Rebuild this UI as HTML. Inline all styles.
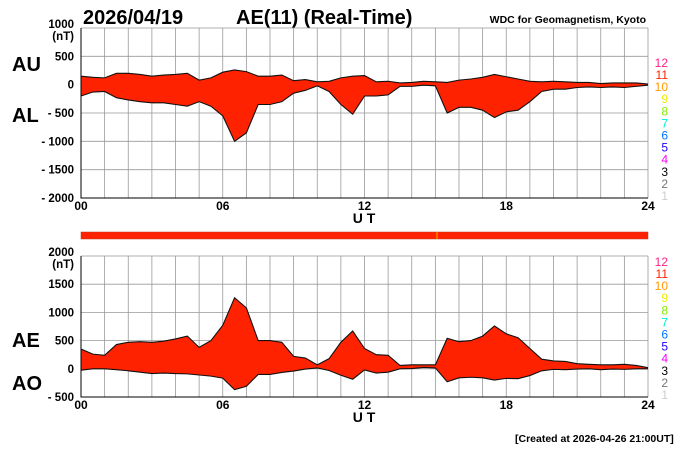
<!DOCTYPE html>
<html><head><meta charset="utf-8"><style>
body{margin:0;background:#fff;font-family:"Liberation Sans",Arial,sans-serif}
svg text{font-family:"Liberation Sans",Arial,sans-serif}
</style></head><body>
<svg id="c" width="700" height="450" viewBox="0 0 700 450">
<text x="83" y="24" font-size="20" font-weight="bold">2026/04/19</text>
<text x="236" y="24" font-size="20" font-weight="bold">AE(11) (Real-Time)</text>
<text x="646" y="23" font-size="10.5" font-weight="bold" text-anchor="end">WDC for Geomagnetism, Kyoto</text>
<text x="12" y="71" font-size="20" font-weight="bold">AU</text>
<text x="12" y="122" font-size="20" font-weight="bold">AL</text>
<text x="12" y="347" font-size="20" font-weight="bold">AE</text>
<text x="12" y="390" font-size="20" font-weight="bold">AO</text>
<rect x="81" y="232" width="567" height="7" fill="#ff2200" stroke="#c03020" stroke-width="0.5"/>
<line x1="437" y1="232" x2="437" y2="239" stroke="#ffaa00" stroke-width="1"/>
<text x="515" y="442" font-size="10.5" font-weight="bold">[Created at 2026-04-26 21:00UT]</text>
<g id="g1"></g><g id="g2"></g>
</svg>
<script>
const hours=[0,0.5,1,1.5,2,2.5,3,3.5,4,4.5,5,5.5,6,6.5,7,7.5,8,8.5,9,9.5,10,10.5,11,11.5,12,12.5,13,13.5,14,14.5,15,15.5,16,16.5,17,17.5,18,18.5,19,19.5,20,20.5,21,21.5,22,22.5,23,23.5,24];
const au=[150,130,120,200,200,180,150,170,180,200,80,120,220,260,230,150,150,170,70,90,50,60,120,150,160,50,60,30,40,60,50,40,80,100,130,180,140,100,60,50,60,50,40,40,20,30,30,30,10];
const al=[-200,-130,-120,-230,-270,-300,-320,-320,-350,-380,-300,-380,-550,-1000,-850,-350,-350,-300,-150,-100,-20,-120,-350,-520,-200,-200,-180,-30,-30,-10,-20,-500,-400,-400,-450,-580,-480,-450,-300,-120,-80,-80,-50,-40,-50,-40,-50,-30,-10];
const ae=[350,260,240,430,470,480,470,490,530,580,380,500,770,1260,1080,500,500,470,220,190,70,180,470,670,360,250,240,60,70,70,70,540,480,500,580,760,620,550,360,170,140,130,90,80,70,70,80,60,20];
const ao=[-25,0,0,-15,-35,-60,-85,-75,-85,-90,-110,-130,-165,-370,-310,-100,-100,-65,-40,-5,15,-30,-115,-185,-20,-75,-60,0,5,25,15,-230,-160,-150,-160,-200,-170,-175,-120,-35,-10,-15,-5,0,-15,-5,-10,0,0];
const ticks1=[1000,500,0,-500,-1000,-1500,-2000];
const tickLabels1=["1000","500","0","- 500","- 1000","- 1500","- 2000"];
const ticks2=[2000,1500,1000,500,0,-500];
const tickLabels2=["2000","1500","1000","500","0","- 500"];
const xTicks=[0,6,12,18,24];
const xTickLabels=["00","06","12","18","24"];
const legendNums=["12","11","10","9","8","7","6","5","4","3","2","1"];
const legendCols=["#ff2288","#ff2200","#ff9900","#eeee00","#88ee00","#00eecc","#0077ff","#2200ff","#ff00ff","#000000","#777777","#cccccc"];
const NS="http://www.w3.org/2000/svg";
function mk(t,a,p){const e=document.createElementNS(NS,t);for(const k in a)e.setAttribute(k,a[k]);p.appendChild(e);return e;}
const X0=81,X1=648;
const xs=h=>X0+(X1-X0)*h/24;
function panel(g,top,bot,vmax,vmin,ticks,labels,upper,lower,pfx){
  const ys=v=>top+(vmax-v)*(bot-top)/(vmax-vmin);
  for(let h=0;h<=24;h++){const l=mk('line',{x1:xs(h),x2:xs(h),y1:top,y2:bot,stroke:'#999','stroke-width':0.8},g);
    
    }
  ticks.forEach((v,i)=>{const l=mk('line',{x1:X0,x2:X1,y1:ys(v),y2:ys(v),stroke:'#999','stroke-width':0.8},g);
    
    
    const t=mk('text',{x:74,y:ys(v)+(i==0?0:4),'font-size':11.5,'font-weight':'bold','text-anchor':'end'},g);t.textContent=labels[i];
    
    });
  const u=mk('text',{x:74,y:ys(ticks[0])+12,'font-size':11.5,'font-weight':'bold','text-anchor':'end'},g);u.textContent="(nT)";
  
  
  let d='M'+hours.map((h,i)=>xs(h)+','+ys(upper[i])).join('L');
  d+='L'+hours.slice().reverse().map((h,j)=>xs(h)+','+ys(lower[hours.length-1-j])).join('L')+'Z';
  const a=mk('path',{d:d,fill:'#ff2200',stroke:'none'},g);
  
  
  const l1=mk('path',{d:'M'+hours.map((h,i)=>xs(h)+','+ys(upper[i])).join('L'),fill:'none',stroke:'#111','stroke-width':1.1},g);
  
  
  const l2=mk('path',{d:'M'+hours.map((h,i)=>xs(h)+','+ys(lower[i])).join('L'),fill:'none',stroke:'#111','stroke-width':1.1},g);
  
  
  const ax=mk('path',{d:`M${X0},${top}V${bot}H${X1}`,fill:'none',stroke:'#000','stroke-width':1},g);
  
  
  xTicks.forEach((h,i)=>{const t=mk('text',{x:xs(h),y:bot+12,'font-size':12,'font-weight':'bold','text-anchor':'middle'},g);t.textContent=xTickLabels[i];
    
    });
  const ut=mk('text',{x:364,y:bot+25,'font-size':14,'font-weight':'bold','text-anchor':'middle'},g);ut.textContent="U T";
  
  
  legendNums.forEach((n,i)=>{const t=mk('text',{x:668,y:bot+2-(11-i)*12.1,'font-size':12,'text-anchor':'end',fill:legendCols[i]},g);t.textContent=n;
    
    });
}
panel(document.getElementById('g1'),28,198,1000,-2000,ticks1,tickLabels1,au,al,'au-al');
panel(document.getElementById('g2'),256,397,2000,-500,ticks2,tickLabels2,ae,ao,'ae-ao');
</script>
</body></html>
